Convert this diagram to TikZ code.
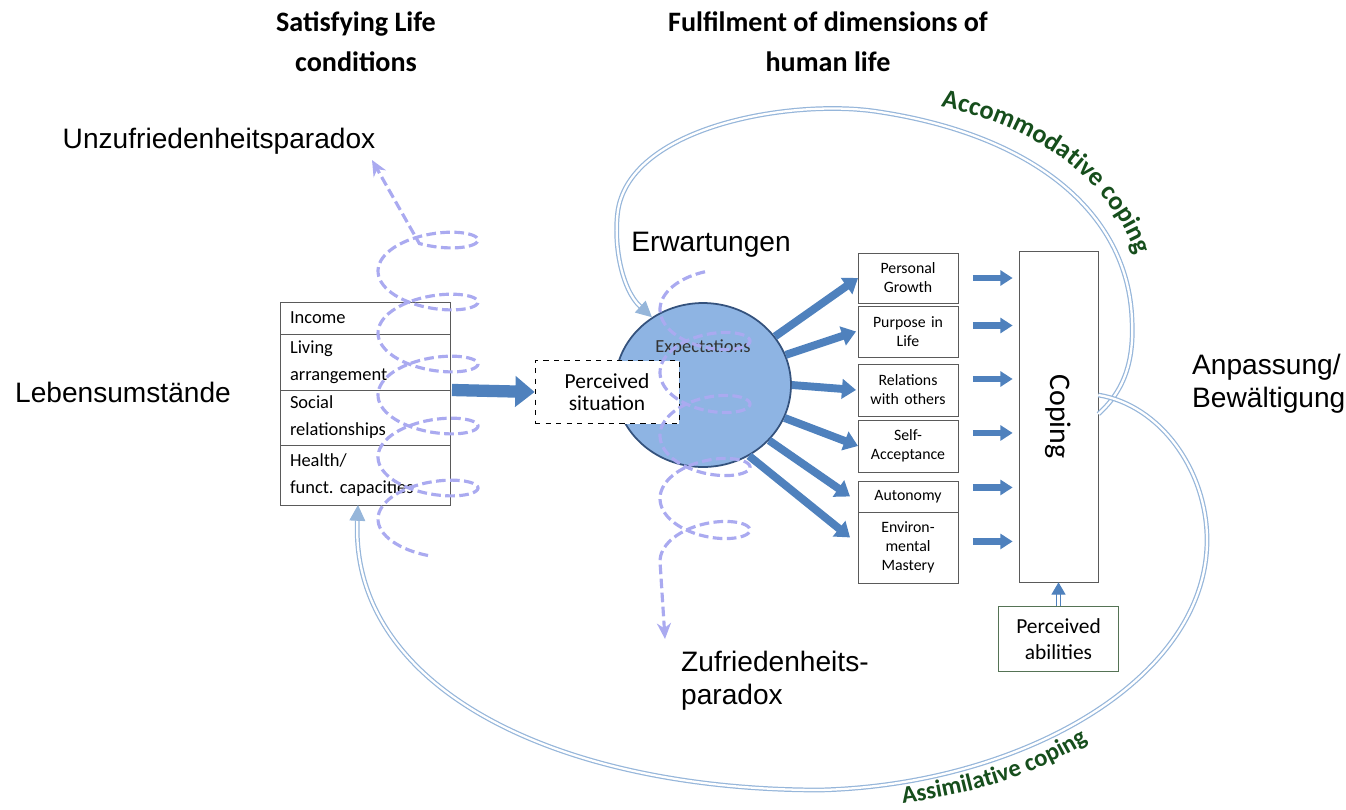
\documentclass[tikz,border=0pt]{standalone}
\usepackage{fontspec}
\setmainfont{Carlito}
\newfontfamily\arialfont{Liberation Sans}
\usetikzlibrary{positioning, arrows.meta, shapes.geometric, decorations.text}

\definecolor{arrowblue}{RGB}{79,129,189}
\definecolor{circlefill}{RGB}{142,180,227}
\definecolor{circleline}{RGB}{52,82,125}
\definecolor{curveblue}{RGB}{150,182,218}
\definecolor{spiralblue}{RGB}{170,170,240}
\definecolor{copegreen}{RGB}{22,78,28}
\definecolor{boxgray}{RGB}{90,90,90}
\definecolor{abilgreen}{RGB}{85,115,85}

\tikzset{
	lifebox/.style={draw=boxgray, outer sep=0pt, inner xsep=0.2cm, text width=3.0cm, align=left, font=\fontsize{10.5}{15.4}\selectfont}, % the life conditions on the left
	dimbox/.style={draw=boxgray, outer sep=0pt, inner xsep=0.1cm, text width=1.8cm, align=center, font=\fontsize{9}{10.8}\selectfont}, % the dimensions of human life
	german/.style={font=\arialfont\fontsize{16}{18.6}\selectfont}, % the added German labels
	heading/.style={font=\bfseries\fontsize{16}{23}\selectfont, align=center},
	bigarrow/.style={draw=arrowblue, line width=7pt, -{Triangle[length=11pt, width=17pt]}},
	spoke/.style={draw=arrowblue, line width=4.5pt, -{Triangle[length=8pt, width=11pt]}},
	smallarrow/.style={draw=arrowblue, line width=3.8pt, -{Triangle[length=7pt, width=8.5pt]}},
	dblarrow/.style={draw=curveblue, double=white, double distance=1.3pt, line width=0.7pt, -{Triangle[length=9pt, width=9pt]}},
	spiral/.style={draw=spiralblue, line width=1.8pt, dash pattern=on 5.5pt off 2.5pt, -{Stealth[length=9pt, width=8pt]}},
}

\begin{document}
\begin{tikzpicture}[x=0.02cm, y=-0.02cm]
	\useasboundingbox (0,0) rectangle (1346,809);

	% headings
	\node[heading] (satisfy) at (356,42) {Satisfying Life\\conditions};
	\node[heading] (fulfil) at (828,42) {Fulfilment of dimensions of\\human life};

	% life conditions
	\node[lifebox, minimum height=0.64cm] (income) at (365,318) {Income};
	\node[lifebox, minimum height=1.12cm, below=0pt of income] (living) {Living\\arrangement};
	\node[lifebox, minimum height=1.1cm, below=0pt of living] (social) {Social\\relationships};
	\node[lifebox, minimum height=1.2cm, below=0pt of social] (health) {Health/\\funct.\ capacities};

	% expectations and perceived situation
	\node[ellipse, draw=circleline, fill=circlefill, line width=1pt, minimum width=3.52cm, minimum height=3.28cm] (expect) at (703,385) {};
	\node[font=\fontsize{10.5}{12}\selectfont, text=black!80] (expecttext) at (703,348) {Expectations};
	\node[draw, dashed, fill=white, minimum width=2.88cm, minimum height=1.26cm, align=center, font=\fontsize{12.2}{12.6}\selectfont] (percsit) at (607,392) {Perceived\\situation};

	% dimensions of human life
	\node[dimbox, minimum height=1cm] (growth) at (908,278) {Personal\\Growth};
	\node[dimbox, minimum height=1.02cm, below=0.06cm of growth] (purpose) {Purpose in\\Life};
	\node[dimbox, minimum height=1.04cm, below=0.14cm of purpose] (relations) {Relations\\with others};
	\node[dimbox, minimum height=1.04cm, below=0.08cm of relations] (selfacc) {Self-\\Acceptance};
	\node[dimbox, minimum height=0.62cm, below=0.18cm of selfacc] (autonomy) {Autonomy};
	\node[dimbox, minimum height=1.42cm, below=0pt of autonomy] (environ) {Environ-\\mental\\Mastery};

	% coping
	\node[draw=boxgray, minimum width=1.58cm, minimum height=6.62cm] (coping) at (1058.5,416.5) {};
	\node[rotate=-90, font=\fontsize{17}{17}\selectfont] (copingtext) at (coping.center) {Coping};
	\node[draw=abilgreen, minimum width=2.4cm, minimum height=1.3cm, align=center, font=\fontsize{12.2}{14.8}\selectfont, below=0.48cm of coping] (pabil) {Perceived\\abilities};

	% German labels
	\node[german] (unzuf) at (219,141) {Unzufriedenheitsparadox};
	\node[german] (lebens) at (123,392) {Lebensumstände};
	\node[german] (erwart) at (711,245) {Erwartungen};
	\node[german, align=left, anchor=west] (anpass) at (1186,384) {Anpassung/\\Bewältigung};
	\node[german, align=left, anchor=west] (zufried) at (675,681) {Zufriedenheits-\\paradox};

	% arrows
	\draw[bigarrow] ([xshift=0.04cm]living.south east) -- (percsit.west);
	\draw[spoke] (expect.34) -- (growth.west);
	\draw[spoke] (expect.20) -- ([xshift=-0.04cm]purpose.west);
	\draw[spoke] (expect.east) -- ([xshift=-0.04cm]relations.west);
	\draw[spoke] (expect.-22) -- (selfacc.west);
	\draw[spoke] (expect.-40) -- ([xshift=-0.16cm]autonomy.west);
	\draw[spoke] (expect.-57) -- ([xshift=-0.16cm, yshift=0.2cm]environ.west);
	\draw[smallarrow] ([xshift=0.3cm]growth.east) -- ([xshift=-0.12cm]coping.west |- growth.east);
	\draw[smallarrow] ([xshift=0.3cm, yshift=0.12cm]purpose.east) -- ([xshift=-0.12cm, yshift=0.12cm]coping.west |- purpose.east);
	\draw[smallarrow] ([xshift=0.3cm, yshift=0.22cm]relations.east) -- ([xshift=-0.12cm, yshift=0.22cm]coping.west |- relations.east);
	\draw[smallarrow] ([xshift=0.3cm, yshift=0.26cm]selfacc.east) -- ([xshift=-0.12cm, yshift=0.26cm]coping.west |- selfacc.east);
	\draw[smallarrow] ([xshift=0.3cm, yshift=0.18cm]autonomy.east) -- ([xshift=-0.12cm, yshift=0.18cm]coping.west |- autonomy.east);
	\draw[smallarrow] ([xshift=0.3cm, yshift=0.12cm]environ.east) -- ([xshift=-0.12cm, yshift=0.12cm]coping.west |- environ.east);
	\draw[dblarrow, draw=arrowblue, -{Triangle[length=7pt, width=8pt]}] (pabil.north) -- (coping.south);

	% coping loops
	\draw[dblarrow] ([yshift=0.05cm]coping.east) .. controls (1125,390) and (1134,360) .. (1132,320)
		.. controls (1128,210) and (1030,135) .. (880,112)
		.. controls (795,98) and (632,125) .. (618,210)
		.. controls (613,245) and (622,290) .. (expect.127);
	\draw[dblarrow] ([yshift=0.43cm]coping.east) .. controls (1160,405) and (1207,470) .. (1207,540)
		.. controls (1207,680) and (1020,785) .. (820,790)
		.. controls (560,790) and (350,690) .. ([xshift=-0.14cm]health.south);
	\path[decorate, decoration={text along path, text align=center,
		text={|\color{copegreen}\bfseries\fontsize{15}{15}\selectfont|Accommodative coping}}]
		(922,104) .. controls (1030,118) and (1120,183) .. (1142,273);
	\path[decorate, decoration={text along path, text align=center,
		text={|\color{copegreen}\bfseries\fontsize{14}{14}\selectfont|Assimilative coping}}]
		(886,805) .. controls (975,796) and (1046,772) .. (1102,732);

	% paradox spirals
	\coordinate (ltip) at (372,160);
	\coordinate (rtip) at (665,639);
	\draw[spiral] plot[domain=90:1900, samples=320, variable=\t] ({428+50*cos(\t)}, {550-0.1722*\t+21*sin(\t)}) -- (ltip);
	\draw[spiral] plot[domain=90:1620, samples=300, variable=\t] ({705+45*cos(\t)}, {278+0.175*\t-22*sin(\t)}) -- (rtip);
\end{tikzpicture}
\end{document}
